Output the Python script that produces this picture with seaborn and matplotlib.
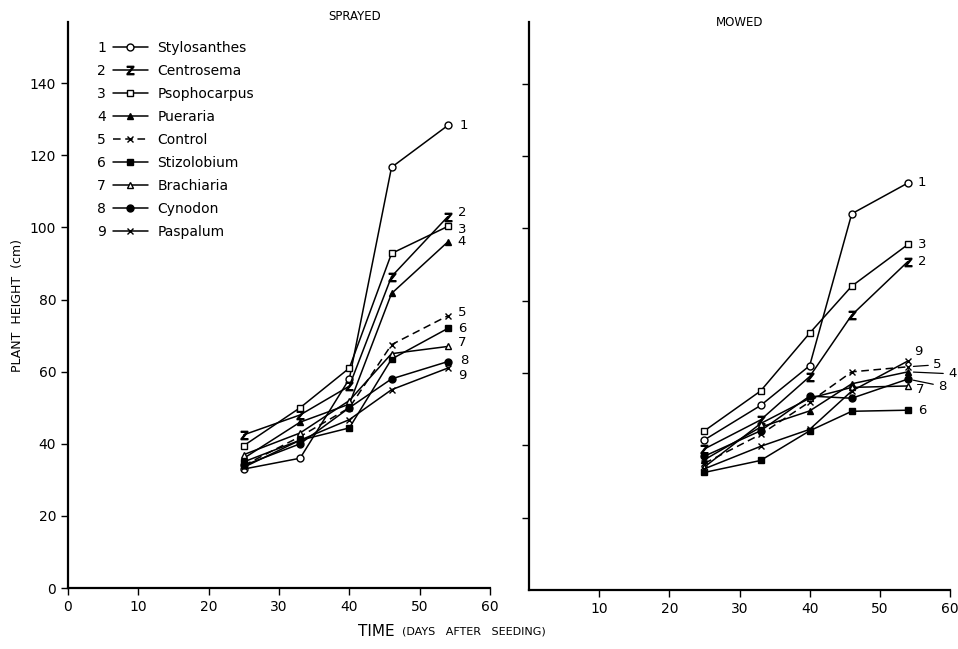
import matplotlib
matplotlib.use("Agg")
import matplotlib.pyplot as plt
from matplotlib.lines import Line2D
import seaborn as sns
import pandas as pd

sns.set_theme(style="white")
plt.rcParams['font.family'] = ['DejaVu Sans']

days = [25, 33, 40, 46, 54]
names = ['Stylosanthes', 'Centrosema', 'Psophocarpus', 'Pueraria', 'Control',
         'Stizolobium', 'Brachiaria', 'Cynodon', 'Paspalum']
numbers = ['1', '2', '3', '4', '5', '6', '7', '8', '9']

sprayed_stylosanthes = [33, 36, 58, 116.7, 128.3]
sprayed_centrosema = [42.5, 48, 56, 86.4, 103]
sprayed_psophocarpus = [39.5, 50, 61, 92.8, 100.3]
sprayed_pueraria = [36, 46, 51, 81.7, 96]
sprayed_control = [34, 42, 50, 67.5, 75.5]
sprayed_stizolobium = [35, 41, 44.4, 63.5, 72]
sprayed_brachiaria = [37, 43, 52, 65, 67]
sprayed_cynodon = [34, 40, 50, 58, 62.8]
sprayed_paspalum = [33.5, 41, 46.7, 55, 61]

mowed_stylosanthes = [41.5, 51, 62, 104, 112.5]
mowed_centrosema = [39, 47, 59, 76, 90.8]
mowed_psophocarpus = [44, 55, 71, 84, 95.5]
mowed_pueraria = [36, 45, 49.5, 57, 60.3]
mowed_control = [35, 43, 52, 60.3, 61.7]
mowed_stizolobium = [32.5, 35.8, 44, 49.4, 49.7]
mowed_brachiaria = [34, 46, 53, 56, 56.4]
mowed_cynodon = [37, 44, 53.6, 53, 58.3]
mowed_paspalum = [33.5, 39.7, 44.4, 55, 63.3]

sprayed = [sprayed_stylosanthes, sprayed_centrosema, sprayed_psophocarpus,
           sprayed_pueraria, sprayed_control, sprayed_stizolobium,
           sprayed_brachiaria, sprayed_cynodon, sprayed_paspalum]
mowed = [mowed_stylosanthes, mowed_centrosema, mowed_psophocarpus,
         mowed_pueraria, mowed_control, mowed_stizolobium,
         mowed_brachiaria, mowed_cynodon, mowed_paspalum]

yticks = [0, 20, 40, 60, 80, 100, 120, 140]
xticks_left = [0, 10, 20, 30, 40, 50, 60]
xticks_right = [10, 20, 30, 40, 50, 60]

# style per series
styles = [
    dict(marker='o', mfc='white', ms=5, ls='-'),
    dict(marker=r'$\mathsf{Z}$', mfc='black', ms=6, ls='-'),
    dict(marker='s', mfc='white', ms=4.5, ls='-'),
    dict(marker='^', mfc='black', ms=5, ls='-'),
    dict(marker='x', mfc='black', ms=5, ls=(0, (5, 3))),
    dict(marker='s', mfc='black', ms=4.5, ls='-'),
    dict(marker='^', mfc='white', ms=5, ls='-'),
    dict(marker='o', mfc='black', ms=5, ls='-'),
    dict(marker='x', mfc='black', ms=5, ls='-'),
]

fig = plt.figure(figsize=(9.58, 6.49), dpi=100)
W, H = 958, 649
ax1 = fig.add_axes([68 / W, 1 - 588 / H, 422 / W, 566 / H])
ax2 = fig.add_axes([529 / W, 1 - 590 / H, 421 / W, 568 / H])

handles = []
for ax, data in [(ax1, sprayed), (ax2, mowed)]:
    for i, (name, vals) in enumerate(zip(names, data)):
        st = styles[i]
        df = pd.DataFrame({'day': days, 'height': vals})
        n_before = len(ax.lines)
        sns.lineplot(data=df, x='day', y='height', ax=ax, color='black',
                     linewidth=1.1, marker=st['marker'], markersize=st['ms'],
                     markerfacecolor=st['mfc'], markeredgecolor='black',
                     markeredgewidth=1.0, linestyle=st['ls'], legend=False)
        if ax is ax1:
            handles.append(ax.lines[n_before])

for ax in (ax1, ax2):
    ax.set_xlim(0, 60)
    ax.set_ylim(0, 157)
    ax.set_xlabel('')
    ax.set_ylabel('')
    for s in ('top', 'right'):
        ax.spines[s].set_visible(False)
    for s in ('left', 'bottom'):
        ax.spines[s].set_color('black')
        ax.spines[s].set_linewidth(1.6)
    ax.set_yticks(yticks)
    ax.tick_params(axis='both', direction='out', length=5, width=1,
                   color='black', labelsize=10, labelcolor='black',
                   left=True, bottom=True)
    ax.grid(False)
    ax.set_facecolor('white')

ax1.set_xticks(xticks_left)
ax1.set_xticklabels([str(t) for t in xticks_left])
ax1.set_yticklabels([str(t) for t in yticks])
ax2.set_xticks(xticks_right)
ax2.set_xticklabels([str(t) for t in xticks_right])
ax2.set_yticks(yticks[1:])
ax2.set_yticklabels([])

# end labels
left_offsets = [(12, 0), (10, 4), (10, -3), (10, 0), (10, 3), (10, 0),
                (10, 4), (12, 1), (10, -7)]
for i, vals in enumerate(sprayed):
    ax1.annotate(numbers[i], xy=(days[-1], vals[-1]), xytext=left_offsets[i],
                 textcoords='offset pixels', ha='left', va='center',
                 fontsize=9.5, color='black')

right_specs = [((10, 0), False), ((10, 0), False), ((10, 0), False),
               ((40, -2), True), ((25, 2), True), ((10, 0), False),
               ((8, -4), False), ((30, -7), True), ((6, 9), False)]
for i, vals in enumerate(mowed):
    off, lead = right_specs[i]
    kw = dict(arrowprops=dict(arrowstyle='-', color='black', lw=0.9,
                              shrinkA=1, shrinkB=4)) if lead else {}
    ax2.annotate(numbers[i], xy=(days[-1], vals[-1]), xytext=off,
                 textcoords='offset pixels', ha='left', va='center',
                 fontsize=9.5, color='black', **kw)

# legend: names + handles
leg = ax1.legend(handles, names, loc='upper left',
                 bbox_to_anchor=(113 / W, 1 - 41 / H),
                 bbox_transform=fig.transFigure, frameon=False, fontsize=10,
                 handlelength=2.5, handletextpad=0.7, labelspacing=0.65,
                 borderpad=0, borderaxespad=0)
for t in leg.get_texts():
    t.set_color('black')
ax1.add_artist(leg)
blank = [Line2D([], [], linestyle='none') for _ in numbers]
leg2 = ax1.legend(blank, numbers, loc='upper left',
                  bbox_to_anchor=(97 / W, 1 - 41 / H),
                  bbox_transform=fig.transFigure, frameon=False, fontsize=10,
                  handlelength=0, handletextpad=0, labelspacing=0.65,
                  borderpad=0, borderaxespad=0)
for t in leg2.get_texts():
    t.set_color('black')

# titles and axis labels
fig.text(355 / W, 1 - 17 / H, 'SPRAYED', ha='center', va='center',
         fontsize=8.5, color='black')
fig.text(740 / W, 1 - 22 / H, 'MOWED', ha='center', va='center',
         fontsize=8.5, color='black')
fig.text(18 / W, 1 - 305 / H, 'PLANT  HEIGHT  (cm)', rotation=90,
         ha='center', va='center', fontsize=9, color='black')
fig.text(395 / W, 1 - 631 / H, 'TIME', ha='right', va='center',
         fontsize=11, color='black')
fig.text(402 / W, 1 - 632 / H, '(DAYS   AFTER   SEEDING)', ha='left',
         va='center', fontsize=8, color='black')

fig.savefig('out.png', dpi=100, facecolor='white')
